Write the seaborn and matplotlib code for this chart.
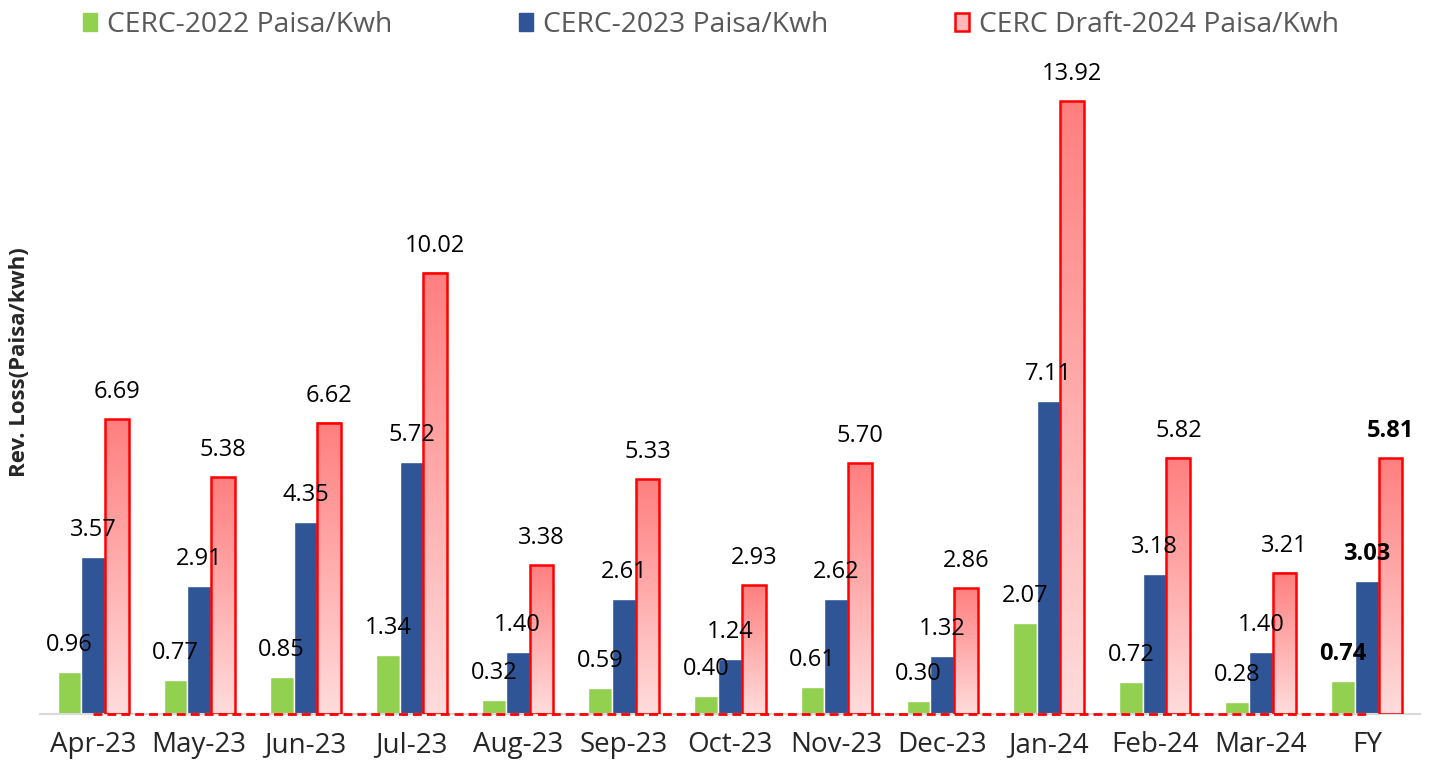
import numpy as np
import pandas as pd
import matplotlib
matplotlib.use("Agg")
import matplotlib.pyplot as plt
from matplotlib.colors import LinearSegmentedColormap
from matplotlib.patches import Patch
import seaborn as sns

# ---- data ----
months = ["Apr-23", "May-23", "Jun-23", "Jul-23", "Aug-23", "Sep-23", "Oct-23",
          "Nov-23", "Dec-23", "Jan-24", "Feb-24", "Mar-24", "FY"]
cerc_2022 = [0.96, 0.77, 0.85, 1.34, 0.32, 0.59, 0.40, 0.61, 0.30, 2.07, 0.72, 0.28, 0.74]
cerc_2023 = [3.57, 2.91, 4.35, 5.72, 1.40, 2.61, 1.24, 2.62, 1.32, 7.11, 3.18, 1.40, 3.03]
draft_2024 = [6.69, 5.38, 6.62, 10.02, 3.38, 5.33, 2.93, 5.70, 2.86, 13.92, 5.82, 3.21, 5.81]
zero_line = [0] * len(months)
series = ["CERC-2022 Paisa/Kwh", "CERC-2023 Paisa/Kwh", "CERC Draft-2024 Paisa/Kwh"]

df = pd.DataFrame({"Month": months, series[0]: cerc_2022,
                   series[1]: cerc_2023, series[2]: draft_2024})
long_df = df.melt(id_vars="Month", var_name="Series", value_name="Value")

# ---- style ----
sns.set_style("white")
plt.rcParams["font.family"] = ["Open Sans", "DejaVu Sans"]

GREEN = "#92D050"
BLUE = "#2F5597"
RED = "#FF0000"
grad_cmap = LinearSegmentedColormap.from_list("pinkgrad", ["#FFDCDC", "#FF7F7F"])

fig = plt.figure(figsize=(14.29, 7.76), dpi=100)
ax = fig.add_axes([0.028, 0.0799, 0.9657, 0.851])

sns.barplot(data=long_df, x="Month", y="Value", hue="Series", hue_order=series,
            palette=[GREEN, BLUE, "#FFB0B0"], width=0.67, saturation=1,
            legend=False, ax=ax)

# gradient fill for draft bars
for bar in ax.containers[2]:
    x0, w, h = bar.get_x(), bar.get_width(), bar.get_height()
    grad = np.linspace(0, 1, 256).reshape(-1, 1)
    ax.imshow(grad, extent=[x0, x0 + w, 0, h], origin="lower", aspect="auto",
              cmap=grad_cmap, zorder=2)
    bar.set_facecolor("none")
    bar.set_edgecolor(RED)
    bar.set_linewidth(1.8)
    bar.set_zorder(3)

# dashed zero series along the baseline
ax.plot(np.arange(len(months)), zero_line, color=RED, linestyle=(0, (3.2, 1.8)),
        linewidth=2, zorder=5, clip_on=False)

# data labels
for i, cont in enumerate(ax.containers):
    for j, bar in enumerate(cont):
        val = bar.get_height()
        bold = months[j] == "FY"
        ax.annotate(f"{val:.2f}", (bar.get_x() + bar.get_width() / 2, val),
                    xytext=(0, 27), textcoords="offset pixels",
                    ha="center", va="center", fontsize=17,
                    fontweight="bold" if bold else "normal",
                    color="black", zorder=6)

ax.set_xlim(-0.5, len(months) - 0.5)
ax.set_ylim(0, 15)
ax.set_yticks([])
ax.set_xlabel("")
ax.set_ylabel("Rev. Loss(Paisa/kwh)", fontsize=16, fontweight="bold")
ax.yaxis.set_label_coords(-0.0075, 0.533)
ax.tick_params(axis="x", length=0, pad=12, labelsize=20)

sns.despine(ax=ax, left=True)
ax.spines["bottom"].set_color("#D9D9D9")
ax.spines["bottom"].set_linewidth(1.5)

handles = [Patch(facecolor=GREEN, edgecolor=GREEN),
           Patch(facecolor=BLUE, edgecolor=BLUE),
           Patch(facecolor="#FFB8B8", edgecolor=RED, linewidth=1.8)]
leg = fig.legend(handles, series, loc="center", bbox_to_anchor=(711 / 1429, 0.968),
                 ncol=3, frameon=False, fontsize=20.3, handlelength=0.5,
                 handleheight=0.65, handletextpad=0.35, columnspacing=4.5)
for t in leg.get_texts():
    t.set_color("#595959")

fig.savefig("out.png", dpi=100)
